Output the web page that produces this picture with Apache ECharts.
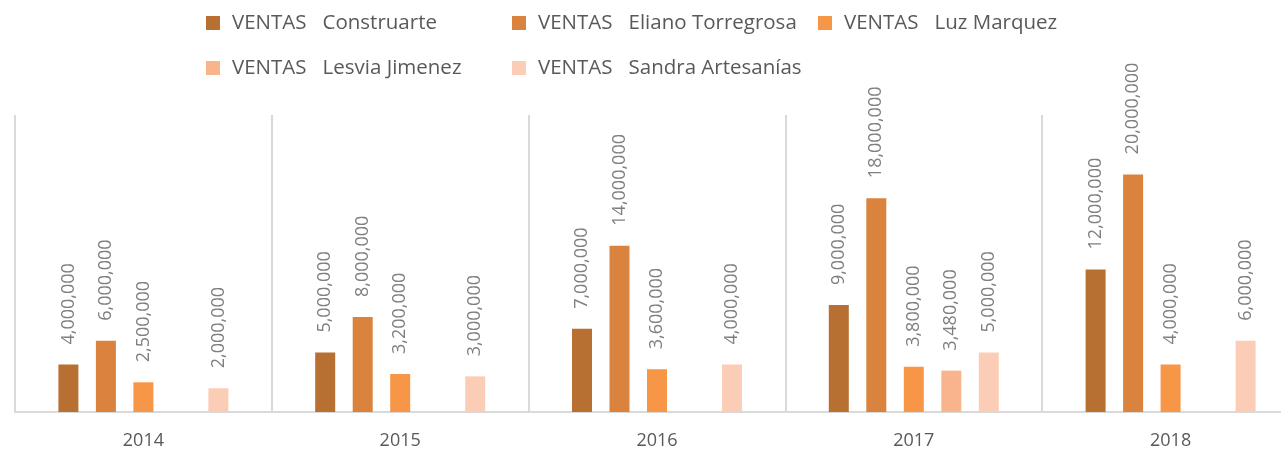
<!DOCTYPE html>
<html>
<head>
<meta charset="utf-8">
<script src="https://cdn.jsdelivr.net/npm/echarts@6/dist/echarts.min.js"></script>
<style>
  html, body { margin: 0; padding: 0; background: #fff; overflow: hidden; }
  /* el gráfico original se sale un poco por la derecha */
  #chart { width: 1299px; height: 450px; }
</style>
</head>
<body>
<div id="chart"></div>
<script>
// datos
var years = ["2014", "2015", "2016", "2017", "2018"];
var seriesNames = [
  "VENTAS   Construarte",
  "VENTAS   Eliano Torregrosa",
  "VENTAS   Luz Marquez",
  "VENTAS   Lesvia Jimenez",
  "VENTAS   Sandra Artesanías"
];
var construarte = [4000000, 5000000, 7000000, 9000000, 12000000];
var eliano = [6000000, 8000000, 14000000, 18000000, 20000000];
var luz = [2500000, 3200000, 3600000, 3800000, 4000000];
var lesvia = [null, null, null, 3480000, null];
var sandra = [2000000, 3000000, 4000000, 5000000, 6000000];

var colors = ["#B86F32", "#DA833E", "#F79646", "#F9B48E", "#FBCDB6"];
var fontFamily = "'Open Sans', 'Noto Sans', sans-serif";
var textColor = "#595959";
var lineColor = "#D9D9D9";

var allData = [construarte, eliano, luz, lesvia, sandra];

// posiciones de la leyenda (dos filas)
var legendPos = [
  { left: 206, top: 11 },
  { left: 512, top: 11 },
  { left: 818, top: 11 },
  { left: 206, top: 56 },
  { left: 512, top: 56 }
];

var chart = echarts.init(document.getElementById("chart"));

var option = {
  animation: false,
  color: colors,
  legend: seriesNames.map(function (name, i) {
    return {
      data: [name],
      left: legendPos[i].left,
      top: legendPos[i].top,
      padding: 0,
      icon: "rect",
      itemWidth: 14,
      itemHeight: 14,
      textStyle: {
        color: textColor,
        fontSize: 20.5,
        fontFamily: fontFamily,
        lineHeight: 24,
        padding: [0, 0, 0, 7]
      }
    };
  }),
  grid: {
    left: 15,
    top: 115,
    right: 0,
    bottom: 37,
    containLabel: false
  },
  xAxis: {
    type: "category",
    data: years,
    axisTick: { show: false },
    axisLine: { lineStyle: { color: lineColor, width: 2 } },
    splitLine: { show: true, lineStyle: { color: lineColor, width: 2 } },
    axisLabel: {
      color: textColor,
      fontSize: 18,
      fontFamily: fontFamily,
      margin: 20
    }
  },
  yAxis: {
    type: "value",
    min: 0,
    max: 25000000,
    show: false,
    splitLine: { show: false }
  },
  series: seriesNames.map(function (name, i) {
    return {
      name: name,
      type: "bar",
      data: allData[i],
      barWidth: 20,
      barGap: "87.5%",
      label: {
        show: true,
        position: "top",
        rotate: 90,
        align: "left",
        verticalAlign: "middle",
        distance: 20,
        color: "#7F7F7F",
        fontSize: 18,
        fontFamily: fontFamily,
        formatter: function (p) {
          return p.value == null ? "" : p.value.toLocaleString("en-US");
        }
      }
    };
  })
};

chart.setOption(option);
</script>
</body>
</html>
